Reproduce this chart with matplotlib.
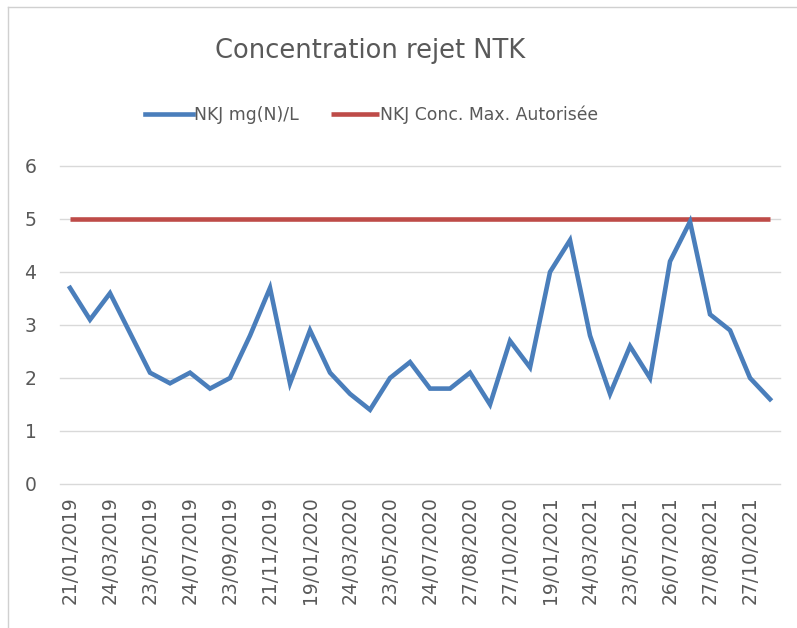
import matplotlib.pyplot as plt
import numpy as np

# valeurs (36 prélèvements)
nkj = [3.7, 3.1, 3.6, 2.85, 2.1, 1.9, 2.1, 1.8, 2.0, 2.8, 3.7, 1.9,
       2.9, 2.1, 1.7, 1.4, 2.0, 2.3, 1.8, 1.8, 2.1, 1.5, 2.7, 2.2,
       4.0, 4.6, 2.8, 1.7, 2.6, 2.0, 4.2, 4.95, 3.2, 2.9, 2.0, 1.6]
conc_max = [5] * len(nkj)

# une étiquette sur deux
tick_labels = ['21/01/2019', '24/03/2019', '23/05/2019', '24/07/2019',
               '23/09/2019', '21/11/2019', '19/01/2020', '24/03/2020',
               '23/05/2020', '24/07/2020', '27/08/2020', '27/10/2020',
               '19/01/2021', '24/03/2021', '23/05/2021', '26/07/2021',
               '27/08/2021', '27/10/2021']

grey = '#595959'

fig = plt.figure(figsize=(7.97, 6.28), dpi=100)
ax = fig.add_axes([0.0753, 0.2293, 0.9034, 0.5064])

x = np.arange(len(nkj))
ax.plot(x, nkj, color='#4a7ebb', lw=3.3, solid_joinstyle='miter', label='NKJ mg(N)/L', zorder=3)
ax.plot(x, conc_max, color='#be4b48', lw=3.3, solid_capstyle='butt', label='NKJ Conc. Max. Autorisée', zorder=2)

ax.set_xlim(-0.5, len(nkj) - 0.5)
ax.set_ylim(0, 6)
ax.set_yticks(range(0, 7))
ax.grid(axis='y', color='#d9d9d9', lw=1)
for gl in ax.get_ygridlines():
    gl.set_clip_on(False)
ax.set_axisbelow(True)
for s in ax.spines.values():
    s.set_visible(False)

ax.set_xticks(x[::2])
ax.set_xticklabels(tick_labels, rotation=90)
ax.tick_params(axis='both', length=0, colors=grey, labelsize=13.5)
ax.tick_params(axis='x', pad=9)
ax.tick_params(axis='y', pad=17)

fig.text(0.464, 0.918, 'Concentration rejet NTK', ha='center', va='center',
         fontsize=18.5, color=grey)
fig.legend(loc='center', bbox_to_anchor=(0.466, 0.817), ncol=2, frameon=False,
           fontsize=12.4, labelcolor=grey, handlelength=2.8, handletextpad=0.05,
           columnspacing=1.9)

# bordure du graphique
fig.add_artist(plt.Line2D([8 / 797, 8 / 797], [0, 1 - 7 / 628], color='#d0d0d0', lw=1))
fig.add_artist(plt.Line2D([8 / 797, 1], [1 - 7 / 628, 1 - 7 / 628], color='#d0d0d0', lw=1))

fig.savefig('out.png', dpi=100)
